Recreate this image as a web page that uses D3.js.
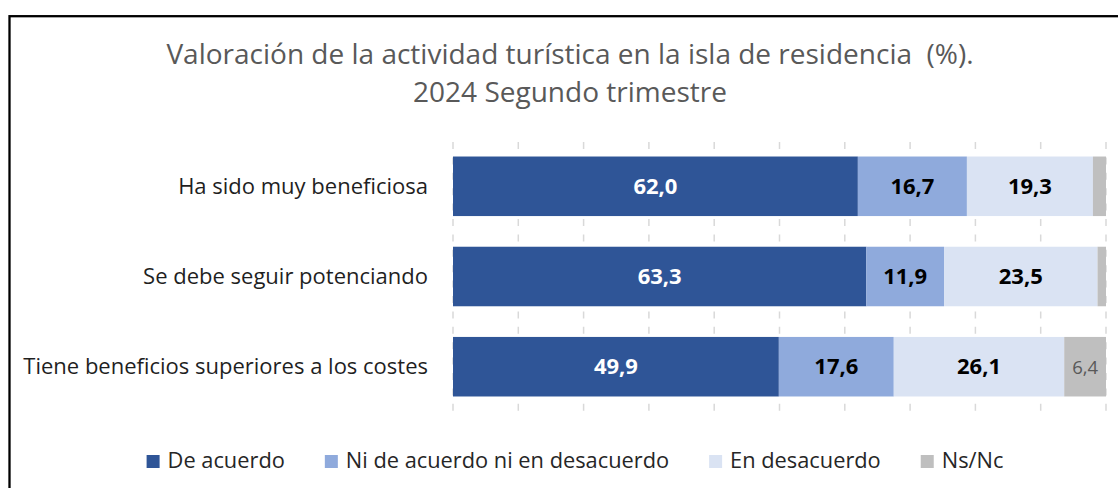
<!DOCTYPE html>
<html>
<head>
<meta charset="utf-8">
<script src="https://cdn.jsdelivr.net/npm/d3@7"></script>
<style>
  html, body { margin: 0; padding: 0; background: #fff; }
  svg { display: block; }
  text { font-family: "Open Sans", sans-serif; white-space: pre; }
</style>
</head>
<body>
<svg id="chart" width="1118" height="488"></svg>
<script>
// ---- data ----
const titleLines = ["Valoración de la actividad turística en la isla de residencia  (%).", "2024 Segundo trimestre"];
const categories = ["Ha sido muy beneficiosa", "Se debe seguir potenciando", "Tiene beneficios superiores a los costes"];
const seriesNames = ["De acuerdo", "Ni de acuerdo ni en desacuerdo", "En desacuerdo", "Ns/Nc"];
const deAcuerdo = [62.0, 63.3, 49.9];
const niNi = [16.7, 11.9, 17.6];
const enDesacuerdo = [19.3, 23.5, 26.1];
const nsNc = [2.0, 1.3, 6.4];
const xTicks = [0, 10, 20, 30, 40, 50, 60, 70, 80, 90, 100];

// ---- styles ----
const colors = ["#2F5597", "#8FAADC", "#DAE3F3", "#BFBFBF"];
const labelFill = ["#ffffff", "#000000", "#000000", "#595959"];
const labelWeight = ["bold", "bold", "bold", "normal"];
const FONT = "'Open Sans', sans-serif";

const svg = d3.select("#chart");
const W = 1118, H = 488;

// frame
svg.append("rect")
  .attr("x", 9.5).attr("y", 16.2)
  .attr("width", W + 20).attr("height", H + 20)
  .attr("fill", "#fff").attr("stroke", "#000").attr("stroke-width", 2.3);

// title
const title = svg.append("g");
title.selectAll("text").data(titleLines).join("text")
  .attr("x", 570).attr("y", (d, i) => 63.5 + i * 38.5)
  .attr("text-anchor", "middle")
  .attr("fill", "#595959")
  .attr("font-size", 28)
  .text(d => d);

// scales
const x = d3.scaleLinear().domain([0, 100]).range([453, 1106]);
const y = d3.scaleBand().domain(categories).range([141, 412]).paddingInner(0.34).paddingOuter(0.172);

// gridlines
svg.append("g").selectAll("line").data(xTicks).join("line")
  .attr("x1", d => x(d)).attr("x2", d => x(d))
  .attr("y1", 142).attr("y2", 412)
  .attr("stroke", "#d9d9d9").attr("stroke-width", 1.5)
  .attr("stroke-dasharray", "7,8.4");

// stack
const rows = categories.map((c, i) => ({
  cat: c,
  [seriesNames[0]]: deAcuerdo[i],
  [seriesNames[1]]: niNi[i],
  [seriesNames[2]]: enDesacuerdo[i],
  [seriesNames[3]]: nsNc[i]
}));
const stacked = d3.stack().keys(seriesNames)(rows);

const fmt = v => d3.format(".1f")(v).replace(".", ",");

stacked.forEach((layer, si) => {
  const g = svg.append("g");
  g.selectAll("rect").data(layer).join("rect")
    .attr("x", d => x(d[0]))
    .attr("y", d => y(d.data.cat))
    .attr("width", d => x(d[1]) - x(d[0]))
    .attr("height", y.bandwidth())
    .attr("fill", colors[si]);
  g.selectAll("text").data(layer.filter(d => d[1] - d[0] >= 5)).join("text")
    .attr("x", d => (x(d[0]) + x(d[1])) / 2)
    .attr("y", d => y(d.data.cat) + y.bandwidth() / 2 + 7.5)
    .attr("text-anchor", "middle")
    .attr("fill", labelFill[si])
    .attr("font-weight", labelWeight[si])
    .attr("font-size", si === 3 ? 18.5 : 22)
    .text(d => fmt(d[1] - d[0]));
});

// category axis
const yAxis = svg.append("g").attr("transform", "translate(428,0)")
  .call(d3.axisLeft(y).tickSize(0).tickPadding(0));
yAxis.select(".domain").remove();
yAxis.selectAll("text")
  .attr("font-family", FONT)
  .attr("font-size", 22).attr("fill", "#1f1f1f")
  .attr("dy", "0.34em");

// legend
const legend = svg.append("g");
const items = legend.selectAll("g").data(seriesNames).join("g");
items.append("rect").attr("width", 13).attr("height", 13).attr("y", 455).attr("fill", (d, i) => colors[i]);
items.append("text").attr("x", 21).attr("y", 467.5).attr("font-size", 21.8).attr("fill", "#262626").text(d => d);
const widths = [];
items.each(function () {
  const w = d3.select(this).select("text").node().getComputedTextLength();
  widths.push(21 + w);
});
const gap = 40;
const total = d3.sum(widths) + gap * (widths.length - 1);
let start = 575 - total / 2;
items.attr("transform", (d, i) => {
  const t = `translate(${start},0)`;
  start += widths[i] + gap;
  return t;
});
</script>
</body>
</html>
